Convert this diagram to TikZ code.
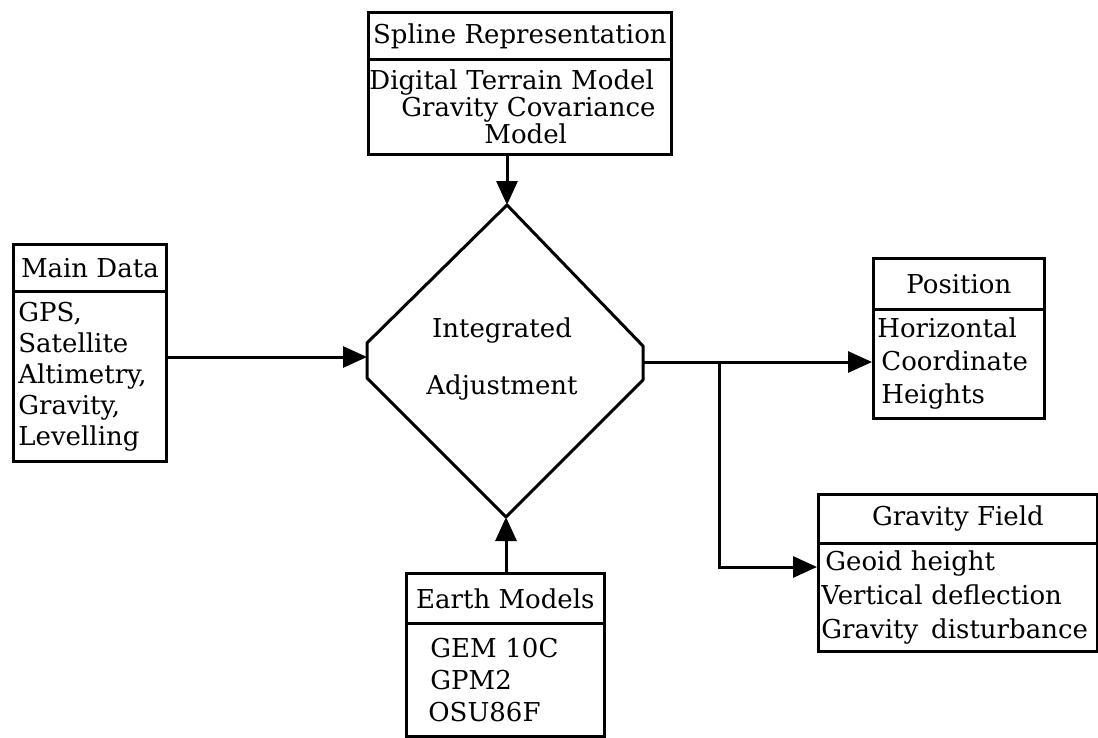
\documentclass[tikz,border=0pt]{standalone}
\usepackage{fontspec}
\setmainfont{DejaVu Serif}
\usetikzlibrary{arrows.meta}
\tikzset{
  ln/.style={line width=3pt},
  boxpart/.style={draw, line width=2.8pt, rectangle, inner sep=0pt, anchor=north west},
  hdr/.style={boxpart, font=\fontsize{26}{30}\selectfont, align=center},
  bdy/.style={boxpart, font=\fontsize{26}{31}\selectfont, align=left},
  arr/.style={ln, -{Triangle[length=24pt,width=21pt]}}
}
\begin{document}
\begin{tikzpicture}[x=1pt,y=-1pt]
\useasboundingbox (0,0) rectangle (1098,737);
% Spline box
\node[hdr, minimum width=303pt, minimum height=47pt] (splH) at (367,11) {Spline Representation};
\node[bdy, font=\fontsize{26}{27}\selectfont, minimum width=303pt, minimum height=95pt, text width=301pt, inner xsep=1pt] (splB) at (367,58) {Digital Terrain Model\\\hspace*{32pt}Gravity Covariance\\\hspace*{115pt}Model};
% Main data
\node[hdr, minimum width=153pt, minimum height=47pt] (mainH) at (12,243) {Main Data};
\node[bdy, minimum width=153pt, minimum height=170pt, text width=143pt, inner xsep=5pt] (mainB) at (12,290) {GPS,\\Satellite\\Altimetry,\\Gravity,\\Levelling};
% Position
\node[hdr, minimum width=171pt, minimum height=51pt] (posH) at (872,257) {Position};
\node[bdy, font=\fontsize{26}{33}\selectfont, minimum width=171pt, minimum height=109pt, text width=163pt, inner xsep=4pt] (posB) at (872,308) {Horizontal\\\hspace*{4pt}Coordinate\\\hspace*{4pt}Heights};
% Gravity field
\node[hdr, minimum width=279pt, minimum height=49pt] (gravH) at (817,493) {Gravity Field};
\node[bdy, font=\fontsize{26}{34}\selectfont, minimum width=279pt, minimum height=108pt, text width=273pt, inner xsep=3pt] (gravB) at (817,542) {\hspace*{4pt}Geoid height\\Vertical deflection\\Gravity\, disturbance};
% Earth models
\node[hdr, minimum width=198pt, minimum height=50pt] (earH) at (405,572) {Earth Models};
\node[bdy, font=\fontsize{26}{32}\selectfont, minimum width=198pt, minimum height=113pt, text width=178pt, inner xsep=10pt] (earB) at (405,622) {\hspace*{14pt}GEM 10C\\\hspace*{14pt}GPM2\\\hspace*{12pt}OSU86F};
% Diamond
\coordinate (dT) at (507,205);
\coordinate (dB) at (506,517);
\coordinate (dL1) at (367,343);
\coordinate (dL2) at (367,378);
\coordinate (dR1) at (643,346);
\coordinate (dR2) at (643,380);
\coordinate (dL) at (367,357);
\coordinate (dR) at (643,362);
\draw[ln, line join=round] (dT) -- (dR1) -- (dR2) -- (dB) -- (dL2) -- (dL1) -- cycle;
\node[font=\fontsize{26}{57}\selectfont, align=center] (adj) at (502,359) {Integrated\\Adjustment};
% Connectors
\draw[arr] (dT |- splB.south) -- (dT);
\draw[arr] (dB |- earH.north) -- (dB);
\draw[arr] (mainB.east |- dL) -- (dL);
\draw[arr] (dR) -- (posB.west |- dR);
\coordinate (br) at (719,362);
\coordinate (gIn) at (817,567);
\draw[arr] (br) |- (gIn);
\end{tikzpicture}
\end{document}
